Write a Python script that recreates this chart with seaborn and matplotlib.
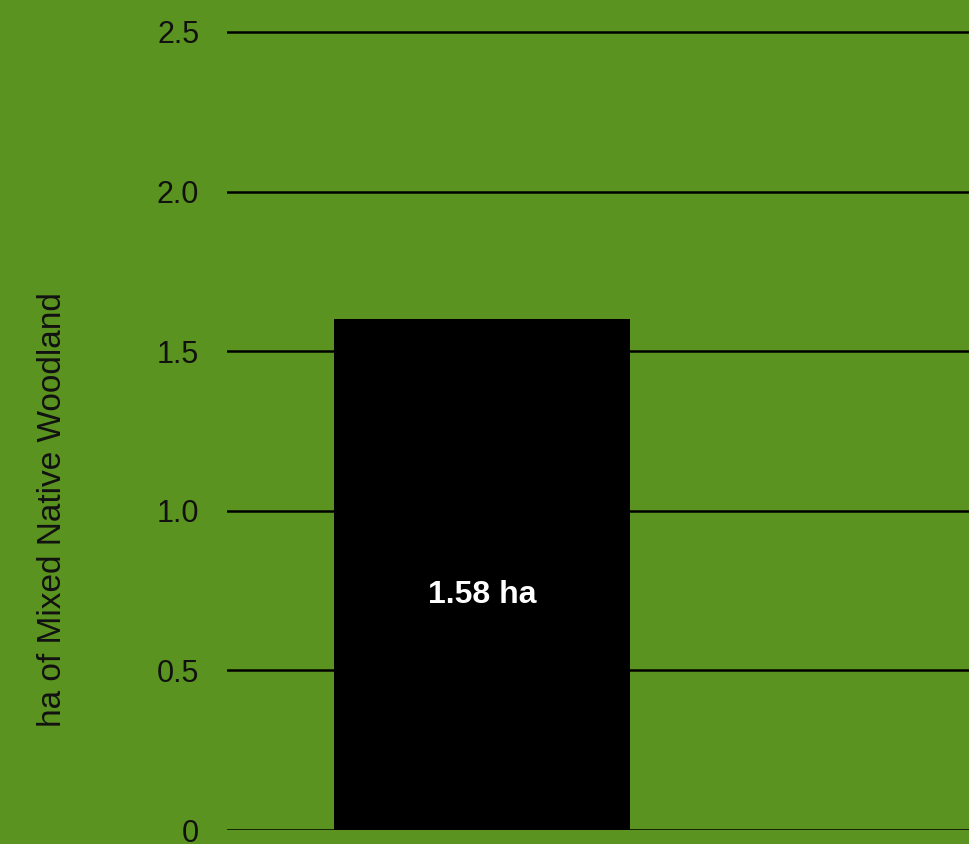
import matplotlib
matplotlib.use("Agg")
import matplotlib.pyplot as plt
import seaborn as sns
import pandas as pd

categories = ["Mixed Native Woodland"]
values = [1.6]
bar_labels = ["1.58 ha"]
y_ticks = [0, 0.5, 1.0, 1.5, 2.0, 2.5]
y_tick_labels = ["0", "0.5", "1.0", "1.5", "2.0", "2.5"]
y_label = "ha of Mixed Native Woodland"

GREEN = "#5A931F"

sns.set_theme(style="white")
plt.rcParams["font.family"] = ["Liberation Sans", "DejaVu Sans"]

W, H = 969, 844
fig = plt.figure(figsize=(W / 100, H / 100), dpi=100, facecolor=GREEN)
ax = fig.add_axes([227 / W, (H - 830) / H, (W - 227) / W, 830 / H])
ax.set_facecolor(GREEN)

df = pd.DataFrame({"cat": categories, "val": values})
sns.barplot(data=df, x="cat", y="val", color="black", saturation=1, width=0.8,
            ax=ax, zorder=3)
for p in ax.patches:
    p.set_facecolor("black")
    p.set_edgecolor("none")

ax.set_ylim(0, 2.6)
ax.set_xlim(-0.689, 1.316)
ax.set_yticks(y_ticks)
ax.set_yticklabels(y_tick_labels)
ax.yaxis.grid(True, color="black", linewidth=1.8, zorder=0)
ax.set_axisbelow(True)
ax.tick_params(axis="y", length=0, pad=20, labelsize=22, colors="#111111")
ax.tick_params(axis="x", length=0, labelbottom=False)
ax.set_xlabel("")
ax.set_ylabel("")
for s in ax.spines.values():
    s.set_visible(False)

fig.text(53 / W, (H - 510) / H, y_label, rotation=90, ha="center", va="center",
         fontsize=24, color="#111111")

for i, (v, lab) in enumerate(zip(values, bar_labels)):
    ax.annotate(lab, xy=(i, v / 2), xytext=(0, -15), textcoords="offset points",
                ha="center", va="center", color="white", fontsize=23,
                fontweight="bold", zorder=5)

fig.savefig("out.png", dpi=100, facecolor=GREEN)
